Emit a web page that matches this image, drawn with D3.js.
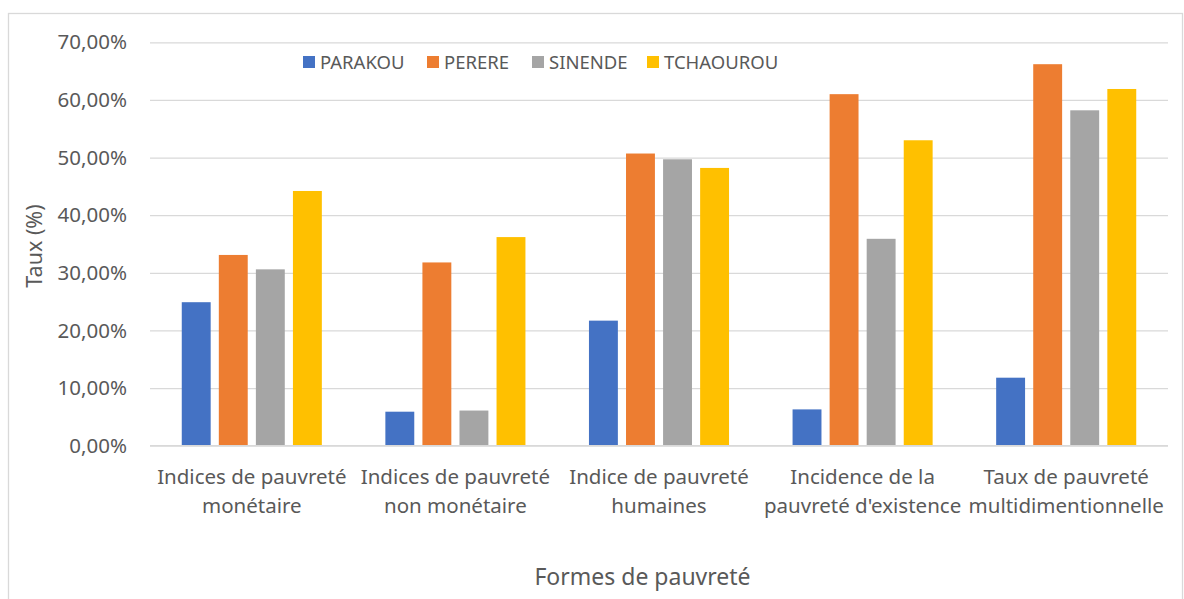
<!DOCTYPE html>
<html>
<head>
<meta charset="utf-8">
<script src="https://cdn.jsdelivr.net/npm/d3@7"></script>
<style>
  body { margin: 0; background: #fff; }
  svg text { font-family: "Noto Sans", "Open Sans", sans-serif; fill: #595959; }
</style>
</head>
<body>
<svg id="chart" width="1184" height="599"></svg>
<script>
// categories (two-line labels)
const categories = [
    ["Indices de pauvreté", "monétaire"],
    ["Indices de pauvreté", "non monétaire"],
    ["Indice de pauvreté", "humaines"],
    ["Incidence de la", "pauvreté d'existence"],
    ["Taux de pauvreté", "multidimentionnelle"]
];
const seriesNames = ["PARAKOU", "PERERE", "SINENDE", "TCHAOUROU"];
const parakou   = [24.9, 5.9, 21.7, 6.3, 11.8];
const perere    = [33.1, 31.8, 50.7, 61.0, 66.2];
const sinende   = [30.6, 6.1, 49.7, 35.9, 58.2];
const tchaourou = [44.2, 36.2, 48.2, 53.0, 61.9];
const yTicks = [0, 10, 20, 30, 40, 50, 60, 70];
const colors = ["#4472C4", "#ED7D31", "#A5A5A5", "#FFC000"];

const seriesValues = [parakou, perere, sinende, tchaourou];

let chart = d3.select("#chart");

// outer border
chart.append("rect")
    .attr("x", 8.5).attr("y", 13.5)
    .attr("width", 1174).attr("height", 590)
    .attr("fill", "none")
    .attr("stroke", "#d9d9d9")
    .attr("stroke-width", 1.3);

let x0 = d3.scaleBand()
    .domain(d3.range(categories.length))
    .range([150, 1168]);
let bw = x0.bandwidth();
let x1 = d3.scaleBand()
    .domain(d3.range(seriesNames.length))
    .range([bw * 0.156, bw * 0.844])
    .paddingInner(0.22);

let y = d3.scaleLinear()
    .domain([0, 70])
    .range([445.7, 42.3]);

// gridlines + y tick labels
let yAxis = d3.axisLeft(y)
    .tickValues(yTicks)
    .tickSize(-(1168 - 150))
    .tickPadding(23)
    .tickFormat(d => d3.format(".2f")(d).replace(".", ",") + "%");
let yAxisGroup = chart.append("g")
    .attr("transform", "translate(150,0)")
    .call(yAxis);
yAxisGroup.select(".domain").remove();
yAxisGroup.selectAll(".tick line")
    .attr("stroke", "#d9d9d9")
    .attr("stroke-width", 1.3);
yAxisGroup.selectAll(".tick text")
    .style("font-family", "'Noto Sans', sans-serif")
    .style("font-size", "20.5px")
    .style("fill", "#595959");

// bars
let groups = chart.selectAll("g.cat")
    .data(categories)
    .enter()
    .append("g")
    .attr("class", "cat")
    .attr("transform", (d, i) => "translate(" + x0(i) + ",0)");

groups.selectAll("rect")
    .data((d, i) => seriesValues.map((s, j) => ({ j: j, v: s[i] })))
    .enter()
    .append("rect")
    .attr("x", d => x1(d.j))
    .attr("y", d => y(d.v))
    .attr("width", x1.bandwidth())
    .attr("height", d => y(0) - y(d.v))
    .attr("fill", d => colors[d.j]);

// baseline over bars
chart.append("line")
    .attr("x1", 150).attr("x2", 1168)
    .attr("y1", y(0)).attr("y2", y(0))
    .attr("stroke", "#d9d9d9")
    .attr("stroke-width", 1.3);

// category labels
groups.each(function(d) {
    let t = d3.select(this).append("text")
        .attr("text-anchor", "middle")
        .style("font-size", "20.5px");
    d.forEach((line, k) => {
        t.append("tspan")
            .attr("x", bw / 2)
            .attr("y", 484 + k * 29)
            .text(line);
    });
});

// legend
let legendX = [303, 427, 532, 647];
let legend = chart.selectAll("g.legend")
    .data(seriesNames)
    .enter()
    .append("g")
    .attr("class", "legend")
    .attr("transform", (d, i) => "translate(" + legendX[i] + ",56)");
legend.append("rect")
    .attr("width", 12).attr("height", 12)
    .attr("fill", (d, i) => colors[i]);
legend.append("text")
    .attr("x", 17)
    .attr("y", 12.5)
    .style("font-size", "18.5px")
    .text(d => d);

// axis titles
chart.append("text")
    .text("Taux (%)")
    .attr("transform", "rotate(-90)")
    .attr("x", -246)
    .attr("y", 42)
    .style("text-anchor", "middle")
    .style("font-size", "21.5px");

chart.append("text")
    .text("Formes de pauvreté")
    .attr("x", 642.5)
    .attr("y", 585)
    .style("text-anchor", "middle")
    .style("font-size", "23px");
</script>
</body>
</html>
